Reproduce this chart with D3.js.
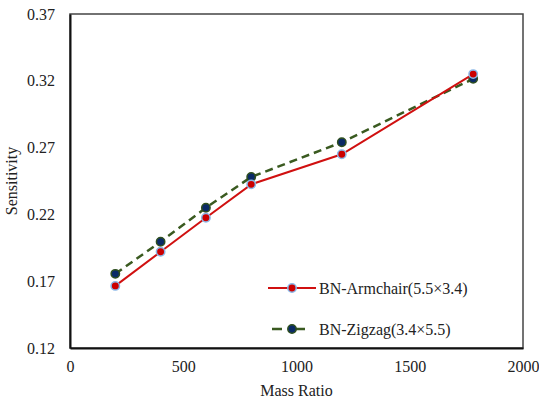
<!DOCTYPE html>
<html>
<head>
<meta charset="utf-8">
<script src="https://cdn.jsdelivr.net/npm/d3@7"></script>
<style>
  body { margin: 0; background: #fff; }
</style>
</head>
<body>
<div id="chart"></div>
<script>
// values
const massRatio = [200, 400, 600, 800, 1200, 1780];
const armchair = [0.1665, 0.192, 0.2175, 0.2425, 0.265, 0.325];
const zigzag = [0.1755, 0.1995, 0.225, 0.248, 0.274, 0.3215];
const xTicks = [0, 500, 1000, 1500, 2000];
const yTicks = [0.12, 0.17, 0.22, 0.27, 0.32, 0.37];

const FONT = "'Liberation Serif', 'DejaVu Serif', serif";
const W = 539, H = 401;
const margin = { top: 14, right: 16, bottom: 53, left: 70 };
const width = W - margin.left - margin.right;
const height = H - margin.top - margin.bottom;

const svg = d3.select('#chart').append('svg')
    .attr('width', W)
    .attr('height', H)
    .style('font-family', FONT);

const g = svg.append('g')
    .attr('transform', `translate(${margin.left},${margin.top})`);

const x = d3.scaleLinear().domain([0, 2000]).range([0, width]);
const y = d3.scaleLinear().domain([0.12, 0.37]).range([height, 0]);

// plot frame
g.append('rect')
    .attr('width', width)
    .attr('height', height)
    .attr('fill', 'none')
    .attr('stroke', '#444')
    .attr('stroke-width', 1.5);

const xAxis = g.append('g')
    .attr('transform', `translate(0,${height})`)
    .call(d3.axisBottom(x).tickValues(xTicks).tickSize(0).tickPadding(13).tickFormat(d3.format('d')));
xAxis.attr('font-family', null);
xAxis.select('.domain').attr('stroke', '#111').attr('stroke-width', 2);
xAxis.selectAll('text').style('font-size', '16px').style('font-family', FONT).attr('fill', '#222');

const yAxis = g.append('g')
    .call(d3.axisLeft(y).tickValues(yTicks).tickSize(0).tickPadding(15).tickFormat(d3.format('.2f')));
yAxis.attr('font-family', null);
yAxis.select('.domain').attr('stroke', '#111').attr('stroke-width', 2);
yAxis.selectAll('text').style('font-size', '16px').style('font-family', FONT).attr('fill', '#222');

svg.append('text')
    .attr('x', margin.left + width / 2)
    .attr('y', 396)
    .attr('text-anchor', 'middle')
    .style('font-size', '16px')
    .attr('fill', '#222')
    .text('Mass Ratio');

svg.append('text')
    .attr('transform', `translate(17,${margin.top + height / 2}) rotate(-90)`)
    .attr('text-anchor', 'middle')
    .style('font-size', '16px')
    .attr('fill', '#222')
    .text('Sensitivity');

const series = [
    { name: 'BN-Armchair', dims: '(5.5×3.4)', values: armchair, line: '#d01010', dash: null, lw: 2,
      fill: '#cc0000', stroke: '#8ab8e8' },
    { name: 'BN-Zigzag', dims: '(3.4×5.5)', values: zigzag, line: '#3a5a20', dash: '8,5', lw: 2.5,
      fill: '#0a2a66', stroke: '#2f4f1f' }
];

const line = d3.line()
    .x(d => x(d.m))
    .y(d => y(d.v));

// draw zigzag first so armchair sits on top, as in the figure
[series[1], series[0]].forEach(s => {
    const pts = massRatio.map((m, i) => ({ m, v: s.values[i] }));
    g.append('path')
        .datum(pts)
        .attr('d', line)
        .attr('fill', 'none')
        .attr('stroke', s.line)
        .attr('stroke-width', s.lw)
        .attr('stroke-dasharray', s.dash);
    g.selectAll(null)
        .data(pts)
        .enter()
        .append('circle')
        .attr('cx', d => x(d.m))
        .attr('cy', d => y(d.v))
        .attr('r', 4.2)
        .attr('fill', s.fill)
        .attr('stroke', s.stroke)
        .attr('stroke-width', 1.5);
});

// legend
const legend = svg.append('g').attr('transform', 'translate(268,288)');
series.forEach((s, i) => {
    const row = legend.append('g').attr('transform', `translate(0,${i * 41})`);
    row.append('line')
        .attr('x1', 0).attr('x2', 48)
        .attr('stroke', s.line)
        .attr('stroke-width', s.lw)
        .attr('stroke-dasharray', s.dash ? '10,13' : null)
        .attr('stroke-dashoffset', s.dash ? -4 : null);
    row.append('circle')
        .attr('cx', 24).attr('r', 4.2)
        .attr('fill', s.fill)
        .attr('stroke', s.stroke)
        .attr('stroke-width', 1.5);
    row.append('text')
        .attr('x', 51).attr('y', 5.5)
        .attr('fill', '#222')
        .style('font-size', '16px')
        .text(s.name + s.dims);
});
</script>
</body>
</html>
